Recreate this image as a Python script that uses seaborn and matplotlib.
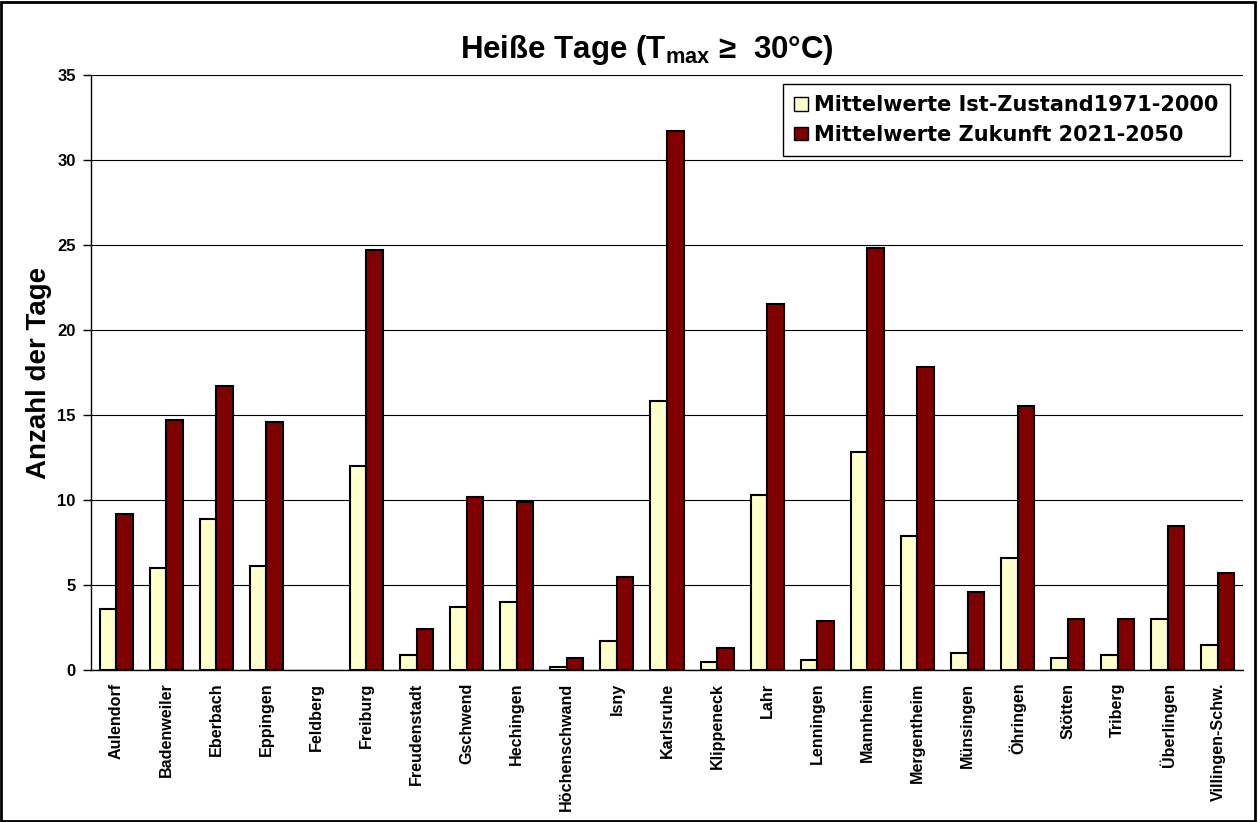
import matplotlib
matplotlib.use("Agg")
import matplotlib.pyplot as plt
import seaborn as sns
import pandas as pd
import numpy as np
from matplotlib.patches import Rectangle, Patch

stations = ["Aulendorf", "Badenweiler", "Eberbach", "Eppingen", "Feldberg", "Freiburg",
            "Freudenstadt", "Gschwend", "Hechingen", "Höchenschwand", "Isny", "Karlsruhe",
            "Klippeneck", "Lahr", "Lenningen", "Mannheim", "Mergentheim", "Münsingen",
            "Öhringen", "Stötten", "Triberg", "Überlingen", "Villingen-Schw."]
ist_1971_2000 = [3.6, 6.0, 8.9, 6.1, 0.0, 12.0, 0.9, 3.7, 4.0, 0.2, 1.7, 15.8,
                 0.5, 10.3, 0.6, 12.8, 7.9, 1.0, 6.6, 0.7, 0.9, 3.0, 1.5]
zukunft_2021_2050 = [9.2, 14.7, 16.7, 14.6, 0.0, 24.7, 2.4, 10.2, 9.9, 0.7, 5.5, 31.7,
                     1.3, 21.5, 2.9, 24.8, 17.8, 4.6, 15.5, 3.0, 3.0, 8.5, 5.7]
series_names = ["Mittelwerte Ist-Zustand1971-2000", "Mittelwerte Zukunft 2021-2050"]
colors = ["#FFFFCC", "#800000"]
y_ticks = [0, 5, 10, 15, 20, 25, 30, 35]

sns.set_style("white")
plt.rcParams['font.family'] = ['Liberation Sans', 'DejaVu Sans']
plt.rcParams['font.weight'] = 'bold'
plt.rcParams['text.color'] = 'black'
plt.rcParams['axes.labelcolor'] = 'black'
plt.rcParams['xtick.color'] = 'black'
plt.rcParams['ytick.color'] = 'black'
plt.rcParams['mathtext.fontset'] = 'custom'
plt.rcParams['mathtext.rm'] = 'Liberation Sans:bold'
plt.rcParams['mathtext.bf'] = 'Liberation Sans:bold'
plt.rcParams['mathtext.it'] = 'Liberation Sans:bold:italic'

df = pd.DataFrame({
    "Station": stations * 2,
    "Wert": ist_1971_2000 + zukunft_2021_2050,
    "Serie": [series_names[0]] * len(stations) + [series_names[1]] * len(stations),
})

fig = plt.figure(figsize=(12.58, 8.22), dpi=100)
ax = fig.add_axes([91/1258, 1 - 670/822, (1243-91)/1258, (670-75)/822])

sns.barplot(data=df, x="Station", y="Wert", hue="Serie", order=stations,
            hue_order=series_names, palette=colors, width=0.66,
            edgecolor="black", linewidth=1.5, saturation=1, ax=ax, legend=False)

# zero-height bars show nothing in the original
for p in ax.patches:
    if p.get_height() == 0:
        p.set_linewidth(0)

ax.set_xlim(-0.5, len(stations) - 0.5)
ax.set_ylim(0, 35)
ax.set_yticks(y_ticks)
ax.set_yticklabels([str(v) for v in y_ticks], fontsize=12, fontweight='bold')
ax.yaxis.grid(True, color="black", linewidth=0.8)
ax.set_axisbelow(True)
for s in ["top", "right"]:
    ax.spines[s].set_visible(False)
for s in ["left", "bottom"]:
    ax.spines[s].set_color("black")
    ax.spines[s].set_linewidth(1.0)

ax.set_xticks(range(len(stations)))
ax.set_xticklabels(stations, rotation=90, fontsize=11.6, fontweight='bold')
ax.tick_params(axis='x', which='major', length=0, pad=9)
ax.set_xticks(np.arange(-0.5, len(stations), 1.0), minor=True)
ax.tick_params(axis='x', which='minor', length=6, width=1, color='black', direction='out')
ax.tick_params(axis='y', length=6, width=1, color='black', direction='out', left=True, pad=5)

ax.set_xlabel("")
ax.set_ylabel("Anzahl der Tage", fontsize=20, fontweight='bold', labelpad=3.5)

handles = [Patch(facecolor=colors[0], edgecolor='black', linewidth=1),
           Patch(facecolor=colors[1], edgecolor='black', linewidth=1)]
leg = ax.legend(handles, series_names, loc='upper right',
                bbox_to_anchor=(1230/1258, 1 - 84/822), bbox_transform=fig.transFigure,
                prop={'size': 15, 'weight': 'bold', 'family': 'DejaVu Sans'},
                frameon=True, fancybox=False,
                edgecolor='black', framealpha=1, handlelength=0.65, handleheight=0.65,
                handletextpad=0.3, borderpad=0.55, labelspacing=0.45, borderaxespad=0)
leg.get_frame().set_linewidth(1.0)

fig.text(647/1258, 1 - 50/822, r"Heiße Tage (T$_{\rm max}$ ≥  30°C)",
         ha='center', va='center', fontsize=22.5, fontweight='bold')

fig.patches.append(Rectangle((0.001, 0.0015), 0.997, 0.996, transform=fig.transFigure,
                             fill=False, edgecolor='black', linewidth=2))

fig.savefig("out.png", dpi=100)
